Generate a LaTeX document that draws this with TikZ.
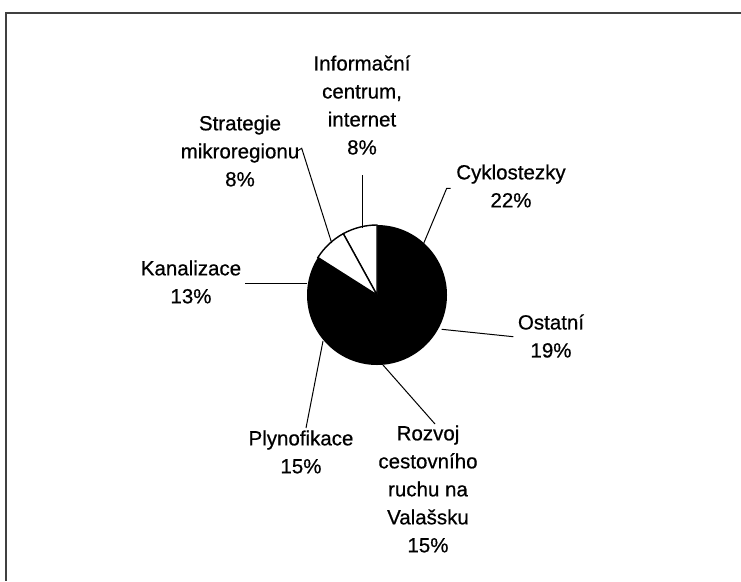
\documentclass[tikz,border=0pt]{standalone}
\usepackage{fontspec}
\setmainfont{Liberation Sans}
\newfontfamily\lblfont{Liberation Sans}[FakeBold=0.6]
\begin{document}
\begin{tikzpicture}[x=1pt,y=-1pt,
  lbl/.style={align=center, font=\fontsize{20.5}{28}\lblfont, inner sep=0pt},
  leader/.style={draw=black, line width=1pt},
  frameline/.style={draw=black!75, line width=1.4pt},
  whiteslice/.style={fill=white, draw=black, line width=1.4pt}]
\useasboundingbox (0,0) rectangle (741,581);
\draw[frameline] (741,13) -- (6,13) -- (6,581);
% pie
\coordinate (c) at (377,295);
\fill[black] (c) circle[radius=70];
\filldraw[whiteslice] (c) -- ++(-90:70) arc[start angle=-90, end angle=-118.8, radius=70] -- cycle;
\filldraw[whiteslice] (c) -- ++(-118.8:70) arc[start angle=-118.8, end angle=-147.6, radius=70] -- cycle;
% labels
\node[lbl] (inf) at (362,105) {Informační\\centrum,\\internet\\8\%};
\node[lbl] (str) at (240,151) {Strategie\\mikroregionu\\8\%};
\node[lbl] (cyk) at (511,186) {Cyklostezky\\22\%};
\node[lbl] (ost) at (551,336) {Ostatní\\19\%};
\node[lbl] (kan) at (191,282) {Kanalizace\\13\%};
\node[lbl] (ply) at (301,452) {Plynofikace\\15\%};
\node[lbl] (roz) at (428,489) {Rozvoj\\cestovního\\ruchu na\\Valašsku\\15\%};
% leader points
\coordinate (cyA) at (423,245);
\coordinate (cyB) at (446.7,188.3);
\coordinate (cyC) at (450.7,188.3);
\coordinate (osA) at (441.7,329.3);
\coordinate (osB) at (513.3,336.7);
\coordinate (roA) at (383,365);
\coordinate (roB) at (435,424);
\coordinate (plA) at (323,341);
\coordinate (plB) at (306,428);
\coordinate (kaA) at (307,283.3);
\coordinate (kaB) at (245,283.3);
\coordinate (stA) at (331.7,243);
\coordinate (stB) at (301.7,148.3);
\coordinate (stC) at (298,150.5);
\coordinate (inA) at (362,228);
\coordinate (inB) at (362,175);
\draw[leader] (cyA) -- (cyB) -- (cyC);
\draw[leader] (osA) -- (osB);
\draw[leader] (roA) -- (roB);
\draw[leader] (plA) -- (plB);
\draw[leader] (kaA) -- (kaB);
\draw[leader] (stA) -- (stB) -- (stC);
\draw[leader] (inA) -- (inB);
\end{tikzpicture}
\end{document}
